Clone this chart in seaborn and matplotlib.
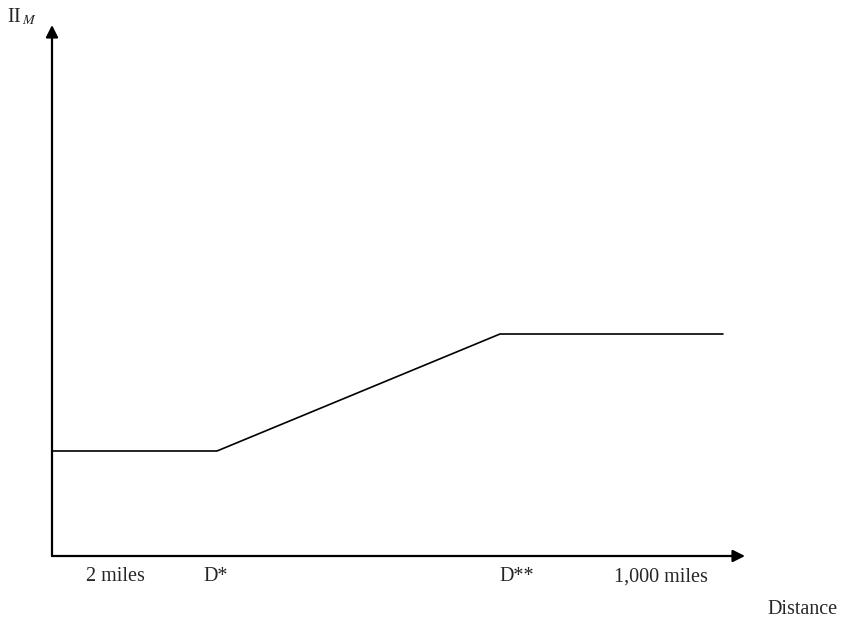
import seaborn as sns
import pandas as pd
import matplotlib.pyplot as plt

sns.set_theme(style="white")
plt.rcParams['font.family'] = ['Liberation Serif', 'DejaVu Serif']
plt.rcParams['mathtext.fontset'] = 'stix'

# profit schedule vs distance (axis units)
distance = [0, 165, 448, 671]
profit = [105, 105, 222, 222]

tick_pos = [63, 164, 465, 609]
tick_labels = ["2 miles", "D*", "D**", "1,000 miles"]

df = pd.DataFrame({"distance": distance, "profit": profit})

fig = plt.figure(figsize=(8.42, 6.23), dpi=100)
ax = fig.add_axes([52/842, 67/623, 693/842, 531/623])

sns.lineplot(data=df, x="distance", y="profit", color="black", lw=1.2, ax=ax)

ax.set_xlim(0, 693)
ax.set_ylim(0, 531)
for s in ax.spines.values():
    s.set_visible(False)

# axes with arrow heads
arrow = dict(arrowstyle="-|>", color="black", lw=1.6, mutation_scale=18, shrinkA=0, shrinkB=0)
ax.annotate("", xy=(693, 0), xytext=(0, 0), arrowprops=arrow, annotation_clip=False)
ax.annotate("", xy=(0, 531), xytext=(0, 0), arrowprops=arrow, annotation_clip=False)

ax.set_xticks(tick_pos, tick_labels, fontsize=14.5)
ax.tick_params(axis="x", length=0, pad=8)
ax.set_yticks([])
ax.set_xlabel("")
ax.set_ylabel("")

fig.text(802/842, 1 - 609/623, "Distance", ha="center", va="center", fontsize=14.5)
fig.text(7/842, 1 - 17/623, r"II$_{\,\mathit{M}}$", ha="left", va="center", fontsize=14.5)

fig.savefig("out.png", dpi=100)
